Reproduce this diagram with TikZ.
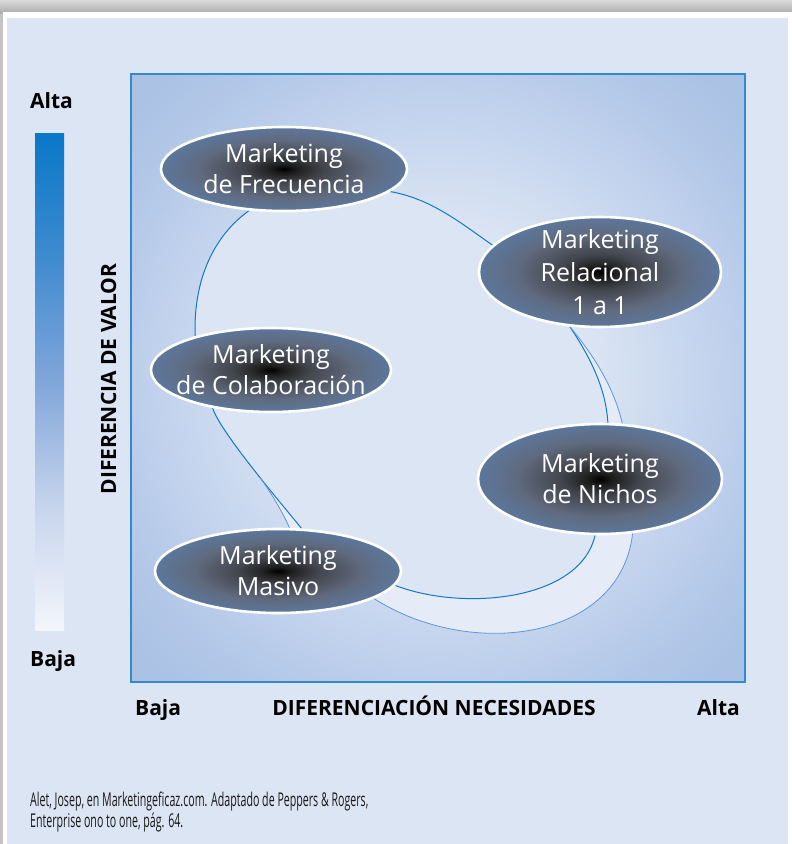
\documentclass[tikz,border=0pt]{standalone}
\usepackage{fontspec}
\setmainfont{Open Sans}
\newfontfamily\capfont[FakeStretch=0.56]{Open Sans}
\usetikzlibrary{shapes.geometric,calc}
\pgfdeclarelayer{bg}
\pgfsetlayers{bg,main}

\definecolor{panel}{HTML}{DCE5F3}
\definecolor{shtop}{HTML}{DADADA}
\definecolor{shbot}{HTML}{ADADAD}
\definecolor{shside}{HTML}{C4C4C4}
\definecolor{sqA}{HTML}{C8D7EF}
\definecolor{sqB}{HTML}{B6CAE9}
\definecolor{sqC}{HTML}{ABC2E5}
\definecolor{sqD}{HTML}{A3BCE2}
\definecolor{sqline}{HTML}{2F8AD0}
\definecolor{band}{HTML}{E6ECF7}
\definecolor{curve}{HTML}{1479C4}
\definecolor{curvelt}{HTML}{5A97D6}
\definecolor{eA}{HTML}{1C1C1C}
\definecolor{eB}{HTML}{42454C}
\definecolor{eC}{HTML}{606A7E}
\definecolor{eD}{HTML}{5B79A0}
\definecolor{eE}{HTML}{5A7EA8}
\definecolor{bA}{HTML}{F3F6FB}
\definecolor{bB}{HTML}{C6D4EC}
\definecolor{bC}{HTML}{80A6DA}
\definecolor{bD}{HTML}{3F8BCF}
\definecolor{bE}{HTML}{0878C8}
\definecolor{captc}{HTML}{1A1A1A}

\pgfdeclareradialshading{sqshade}{\pgfpoint{0bp}{0bp}}{color(0bp)=(panel); color(12bp)=(panel); color(20bp)=(sqA); color(27bp)=(sqB); color(33bp)=(sqC); color(100bp)=(sqD)}
\pgfdeclareradialshading{ellshade}{\pgfpoint{0bp}{0bp}}{color(0bp)=(black); color(2.5bp)=(eA); color(8bp)=(eB); color(17bp)=(eC); color(26bp)=(eD); color(32bp)=(eE); color(100bp)=(eE)}
\pgfdeclareverticalshading{barshade}{100bp}{color(0bp)=(bA); color(25bp)=(bA); color(37.5bp)=(bB); color(50bp)=(bC); color(62.5bp)=(bD); color(75bp)=(bE); color(100bp)=(bE)}

\begin{document}
\begin{tikzpicture}[x=1pt,y=-1pt,
  ell/.style={ellipse, draw=white, line width=2.6pt, shading=ellshade, inner sep=0pt},
  elltext/.style={text=white, align=center, font=\fontsize{25}{31}\selectfont, inner sep=0pt},
  lab/.style={font=\fontsize{21}{21}\selectfont\bfseries, inner sep=0pt, text=black},
  capt/.style={font=\capfont\fontsize{19}{21}\selectfont, inner sep=0pt, text=captc, anchor=base west},
  dk/.style={draw=curve, line width=1pt},
  lt/.style={draw=curvelt, line width=0.8pt}]

\useasboundingbox (0,0) rectangle (792,844);

\begin{pgfonlayer}{bg}
  \fill[shside] (0,0) rectangle (3,844);
  \shade[top color=shtop, bottom color=shbot] (0,0) rectangle (792,13);
  \fill[white] (3,12) rectangle (792,844);
  \fill[panel] (7,18) rectangle (788,844);
  \shade[shading=barshade] (35,133) rectangle (64,630);
  \shade[shading=sqshade] (131,74) rectangle (745,682);
  \draw[sqline, line width=1.5pt] (131,74) rectangle (745,682);
\end{pgfonlayer}

% ellipses
\node[ell, minimum width=246pt, minimum height=84pt]  (frec) at (284,169) {};
\node[ell, minimum width=242pt, minimum height=110pt] (rel)  at (600,272) {};
\node[ell, minimum width=240pt, minimum height=84pt]  (col)  at (271,370) {};
\node[ell, minimum width=244pt, minimum height=110pt] (nic)  at (600,479) {};
\node[ell, minimum width=246pt, minimum height=84pt]  (mas)  at (278,571) {};

\node[elltext] (tfrec) at (frec.center) {Marketing\\de Frecuencia};
\node[elltext, font=\fontsize{25}{33}\selectfont] (trel) at (rel.center) {Marketing\\Relacional\\1 a 1};
\node[elltext] (tcol) at (col.center) {Marketing\\de Colaboración};
\node[elltext] (tnic) at (nic.center) {Marketing\\de Nichos};
\node[elltext] (tmas) at (mas.center) {Marketing\\Masivo};

% connector end points on the ellipse borders
\coordinate (fA) at (frec.-12);
\coordinate (fB) at (frec.230);
\coordinate (rA) at (rel.166);
\coordinate (rB) at (rel.241);
\coordinate (nA) at (nic.82);
\coordinate (nA2) at (nic.68);
\coordinate (nB) at (nic.265);
\coordinate (nB2) at (nic.301);
\coordinate (mA) at (mas.-7);
\coordinate (mA2) at (mas.-16);
\coordinate (mB) at (mas.61);
\coordinate (mB2) at (mas.75);
\coordinate (cA) at (col.213);
\coordinate (cB) at (col.156);
\path (mB) .. controls +(-16,-20) and +(8,25) .. (cA) coordinate[pos=0.45] (mj);

\begin{pgfonlayer}{bg}
  % outer band
  \fill[band] (fA) .. controls +(40,7) and +(-34,-24) .. (rA) -- (rB)
     .. controls +(25,30) and +(-8,-35) .. (nA2) -- (nB2)
     .. controls +(-12,107) and +(97,62) .. (mA2) -- (mB2)
     .. controls +(-8,-18) and +(9,12) .. (mj) -- (cA) -- (cB)
     .. controls +(-2,-57) and +(-35,25) .. (fB) -- cycle;
  % inner loop
  \fill[panel] (fA) .. controls +(40,7) and +(-34,-24) .. (rA) -- (rB)
     .. controls +(20,30) and +(-2,-35) .. (nA) -- (nB)
     .. controls +(-15,66) and +(67,26) .. (mA) -- (mB)
     .. controls +(-16,-20) and +(8,25) .. (cA) -- (cB)
     .. controls +(-2,-57) and +(-35,25) .. (fB) -- cycle;
  % connectors
  \path[dk] (fA) .. controls +(40,7) and +(-34,-24) .. (rA);
  \path[dk] (rB) .. controls +(20,30) and +(-2,-35) .. (nA);
  \path[lt] (rB) .. controls +(25,30) and +(-8,-35) .. (nA2);
  \path[dk] (nB) .. controls +(-15,66) and +(67,26) .. (mA);
  \path[lt] (nB2) .. controls +(-12,107) and +(97,62) .. (mA2);
  \path[dk] (mB) .. controls +(-16,-20) and +(8,25) .. (cA);
  \path[lt] (mB2) .. controls +(-8,-18) and +(9,12) .. (mj);
  \path[dk] (cB) .. controls +(-2,-57) and +(-35,25) .. (fB);
\end{pgfonlayer}

% axis labels
\node[lab, anchor=base west] (altaY) at (30,108) {Alta};
\node[lab, anchor=base west] (bajaY) at (30,666) {Baja};
\node[lab, anchor=base, rotate=90] (ejeY) at (116,379) {DIFERENCIA DE VALOR};
\node[lab, anchor=base west] (bajaX) at (135,715) {Baja};
\node[lab, anchor=base] (ejeX) at (434,715) {DIFERENCIACIÓN NECESIDADES};
\node[lab, anchor=base east] (altaX) at (740,715) {Alta};

% source
\node[capt] (cap1) at (30,806) {Alet, Josep, en Marketingeficaz.com. Adaptado de Peppers \& Rogers,};
\node[capt] (cap2) at (30,827) {Enterprise ono to one, pág. 64.};
\end{tikzpicture}
\end{document}
